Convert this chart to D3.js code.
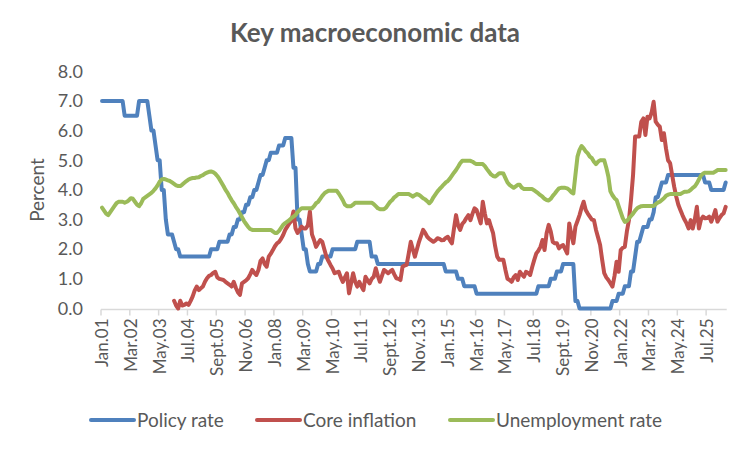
<!DOCTYPE html>
<html>
<head>
<meta charset="utf-8">
<script src="https://cdn.jsdelivr.net/npm/d3@7"></script>
<style>
  body { margin: 0; background: #fff; }
  svg { display: block; font-family: Lato, "Open Sans", sans-serif; }
</style>
</head>
<body>
<div id="chart"></div>
<script>
// monthly data, Jan 2001 onwards (304 months)
let monthNames = ["Jan", "Feb", "Mar", "Apr", "May", "Jun", "Jul", "Aug", "Sept", "Oct", "Nov", "Dec"];
let startYear = 2001;
let tickEvery = 14;

let policyRate = [
  7, 7, 7, 7, 7, 7, 7, 7, 7, 7, 7, 6.5,
  6.5, 6.5, 6.5, 6.5, 6.5, 6.5, 7, 7, 7, 7, 7, 6.5,
  6, 6, 5.5, 5, 5, 4, 4, 3, 2.5, 2.5, 2.5, 2.25,
  2, 2, 1.75, 1.75, 1.75, 1.75, 1.75, 1.75, 1.75, 1.75, 1.75, 1.75,
  1.75, 1.75, 1.75, 1.75, 1.75, 2, 2, 2, 2, 2.25, 2.25, 2.25,
  2.25, 2.25, 2.5, 2.5, 2.75, 2.75, 3, 3, 3.25, 3.25, 3.5, 3.5,
  3.75, 3.75, 4, 4, 4.25, 4.5, 4.5, 4.75, 5, 5, 5.25, 5.25,
  5.25, 5.25, 5.5, 5.5, 5.5, 5.75, 5.75, 5.75, 5.75, 4.75, 4.75, 3,
  3, 2.5, 2, 2, 1.5, 1.25, 1.25, 1.25, 1.25, 1.5, 1.5, 1.75,
  1.75, 1.75, 1.75, 1.75, 2, 2, 2, 2, 2, 2, 2, 2,
  2, 2, 2, 2, 2.25, 2.25, 2.25, 2.25, 2.25, 2.25, 2.25, 1.75,
  1.75, 1.75, 1.5, 1.5, 1.5, 1.5, 1.5, 1.5, 1.5, 1.5, 1.5, 1.5,
  1.5, 1.5, 1.5, 1.5, 1.5, 1.5, 1.5, 1.5, 1.5, 1.5, 1.5, 1.5,
  1.5, 1.5, 1.5, 1.5, 1.5, 1.5, 1.5, 1.5, 1.5, 1.5, 1.5, 1.25,
  1.25, 1.25, 1.25, 1.25, 1.25, 1, 1, 1, 0.75, 0.75, 0.75, 0.75,
  0.75, 0.75, 0.5, 0.5, 0.5, 0.5, 0.5, 0.5, 0.5, 0.5, 0.5, 0.5,
  0.5, 0.5, 0.5, 0.5, 0.5, 0.5, 0.5, 0.5, 0.5, 0.5, 0.5, 0.5,
  0.5, 0.5, 0.5, 0.5, 0.5, 0.5, 0.5, 0.5, 0.75, 0.75, 0.75, 0.75,
  0.75, 0.75, 1, 1, 1, 1.25, 1.25, 1.25, 1.5, 1.5, 1.5, 1.5,
  1.5, 1.5, 0.25, 0.25, 0, 0, 0, 0, 0, 0, 0, 0,
  0, 0, 0, 0, 0, 0, 0, 0, 0.25, 0.25, 0.25, 0.5,
  0.5, 0.5, 0.75, 0.75, 0.75, 1.25, 1.25, 1.75, 2.25, 2.25, 2.5, 2.75,
  2.75, 2.75, 3, 3, 3.25, 3.75, 3.75, 4, 4.25, 4.25, 4.25, 4.5,
  4.5, 4.5, 4.5, 4.5, 4.5, 4.5, 4.5, 4.5, 4.5, 4.5, 4.5, 4.5,
  4.5, 4.5, 4.5, 4.5, 4.5, 4.25, 4.25, 4.25, 4, 4, 4, 4,
  4, 4, 4, 4.25
];

let coreInflation = [
  null, null, null, null, null, null, null, null, null, null, null, null,
  null, null, null, null, null, null, null, null, null, null, null, null,
  null, null, null, null, null, null, null, null, null, null, null, 0.26,
  0.1, 0, 0.26, 0.1, 0.12, 0.17, 0.12, 0.25, 0.4, 0.6, 0.74, 0.62,
  0.68, 0.74, 0.9, 1.02, 1.1, 1.13, 1.2, 1.24, 1.05, 1, 0.98, 0.96,
  0.9, 0.85, 0.8, 0.74, 0.9, 0.7, 0.55, 0.46, 0.85, 0.9, 0.95, 1.02,
  1.15, 1.3, 1.2, 1.13, 1.3, 1.6, 1.69, 1.5, 1.41, 1.75, 1.85, 1.97,
  2.1, 2.2, 2.25, 2.35, 2.48, 2.65, 2.76, 2.87, 2.95, 3.27, 2.7, 2.55,
  2.65, 2.76, 2.7, 2.7, 2.8, 3.27, 2.5, 2.31, 2.08, 2.2, 2.31, 2.25,
  2, 1.75, 1.6, 1.47, 1.35, 1.19, 1.22, 1.24, 1.05, 0.9, 1.05, 1.19,
  0.51, 0.85, 1.19, 0.9, 0.74, 0.9, 0.75, 0.62, 1.07, 0.95, 0.85, 1,
  1.07, 1.36, 1.1, 0.9, 1.1, 1.3, 1.25, 1.19, 1.25, 1.3, 1.15, 1.02,
  1, 0.96, 1.41, 1.45, 1.47, 1.85, 2.25, 2, 1.75, 2, 2.25, 2.45,
  2.65, 2.55, 2.42, 2.35, 2.3, 2.25, 2.3, 2.37, 2.35, 2.3, 2.31, 2.38,
  2.42, 2.3, 2.2, 2.7, 3.15, 2.8, 2.65, 2.85, 2.93, 3.05, 3.15, 2.98,
  3.2, 3.38, 3.32, 3.1, 2.87, 3.6, 3.2, 2.87, 2.98, 2.75, 2.54, 2.1,
  1.75, 1.64, 1.64, 1.64, 1.3, 1, 0.96, 0.9, 1.05, 1.13, 0.96, 1.24,
  1.15, 1.07, 1.24, 1.2, 1.13, 1.4, 1.64, 1.86, 1.95, 2.08, 2.31, 1.97,
  2.54, 2.82, 2.6, 2.25, 2.2, 2.2, 2.03, 2.1, 2.14, 2, 1.86, 2.87,
  2.5, 2.2, 2.76, 2.95, 3.15, 3.4, 3.6, 3.32, 3.2, 3.1, 3, 2.98,
  2.65, 2.4, 2.14, 1.64, 1.19, 1.05, 0.96, 0.85, 0.74, 1.1, 1.58, 1.24,
  1.97, 2.05, 2.08, 2.6, 2.98, 3.66, 4.5, 5.8, 5.8, 5.8, 6.3, 6.41,
  5.85, 6.47, 6.41, 6.6, 6.97, 6.3, 6.2, 6.13, 5.68, 5.91, 5.4, 5,
  4.9, 4.5, 4.1, 3.77, 3.5, 3.32, 3.15, 3, 2.87, 2.7, 2.98, 2.7,
  3, 3.43, 2.7, 3, 3.1, 3.04, 3.05, 3.1, 2.93, 3.1, 3.32, 2.93,
  3.05, 3.15, 3.21, 3.43
];

let unemployment = [
  3.4, 3.3, 3.2, 3.15, 3.25, 3.35, 3.45, 3.55, 3.6, 3.6, 3.6, 3.57,
  3.6, 3.65, 3.72, 3.7, 3.6, 3.5, 3.45, 3.55, 3.7, 3.75, 3.8, 3.85,
  3.9, 3.97, 4.05, 4.15, 4.28, 4.35, 4.37, 4.35, 4.32, 4.3, 4.25, 4.2,
  4.15, 4.13, 4.13, 4.18, 4.24, 4.3, 4.35, 4.38, 4.4, 4.4, 4.42, 4.43,
  4.47, 4.5, 4.55, 4.58, 4.61, 4.62, 4.6, 4.55, 4.47, 4.37, 4.25, 4.13,
  4, 3.9, 3.77, 3.65, 3.55, 3.43, 3.33, 3.2, 3.08, 2.95, 2.85, 2.75,
  2.68, 2.65, 2.65, 2.65, 2.65, 2.65, 2.65, 2.65, 2.65, 2.65, 2.65, 2.6,
  2.55, 2.55, 2.62, 2.72, 2.82, 2.88, 2.93, 2.98, 3.05, 3.1, 3.15, 3.25,
  3.32, 3.38, 3.38, 3.38, 3.38, 3.38, 3.38, 3.45, 3.55, 3.6, 3.7, 3.8,
  3.88, 3.93, 3.97, 3.97, 3.97, 3.97, 3.97, 3.88, 3.77, 3.65, 3.5, 3.45,
  3.45, 3.45, 3.5, 3.57, 3.57, 3.57, 3.57, 3.57, 3.57, 3.57, 3.57, 3.57,
  3.52, 3.45, 3.38, 3.35, 3.35, 3.35, 3.4, 3.5, 3.6, 3.66, 3.75, 3.8,
  3.86, 3.86, 3.86, 3.86, 3.86, 3.86, 3.82, 3.77, 3.82, 3.86, 3.83, 3.78,
  3.72, 3.68, 3.62, 3.55, 3.62, 3.75, 3.85, 3.95, 4.03, 4.1, 4.18, 4.25,
  4.3, 4.38, 4.48, 4.58, 4.67, 4.78, 4.9, 4.98, 4.98, 4.98, 4.98, 4.98,
  4.95, 4.9, 4.87, 4.87, 4.87, 4.87, 4.8, 4.7, 4.61, 4.52, 4.47, 4.45,
  4.5, 4.56, 4.56, 4.55, 4.4, 4.25, 4.17, 4.12, 4.07, 4.12, 4.17, 4.17,
  4.07, 4.03, 4.03, 4.03, 4.03, 4.03, 3.98, 3.93, 3.88, 3.82, 3.77, 3.7,
  3.66, 3.64, 3.7, 3.8, 3.88, 3.97, 4.05, 4.07, 4.07, 4.07, 4.05, 4,
  3.92, 3.88, 4.5, 5.12, 5.35, 5.48, 5.4, 5.3, 5.23, 5.12, 5.07, 4.95,
  4.87, 4.95, 5, 5, 5, 4.75, 4.45, 3.95, 3.82, 3.72, 3.66, 3.45,
  3.25, 3.05, 2.92, 2.95, 3.04, 3.12, 3.2, 3.3, 3.38, 3.42, 3.45, 3.46,
  3.46, 3.46, 3.46, 3.46, 3.46, 3.52, 3.57, 3.6, 3.66, 3.72, 3.8, 3.84,
  3.86, 3.86, 3.86, 3.86, 3.86, 3.86, 3.9, 3.94, 3.94, 3.95, 4, 4.07,
  4.12, 4.22, 4.35, 4.48, 4.55, 4.58, 4.58, 4.58, 4.58, 4.58, 4.62, 4.67,
  4.67, 4.67, 4.67, 4.67
];

let yTicks = [0, 1, 2, 3, 4, 5, 6, 7, 8];

let seriesList = [
  { name: "Policy rate", values: policyRate, color: "#4f81bd" },
  { name: "Core inflation", values: coreInflation, color: "#c0504d" },
  { name: "Unemployment rate", values: unemployment, color: "#9bbb59" }
];

// month labels like "Jan.01", "Sept.05"
let categories = policyRate.map((d, i) => {
  let m = i % 12;
  let y = (startYear + Math.floor(i / 12)) % 100;
  return monthNames[m] + "." + String(y).padStart(2, "0");
});

let width = 750;
let height = 450;
let textColor = "#595959";

let svg = d3.select("#chart")
  .append("svg")
  .attr("width", width)
  .attr("height", height);

let x = d3.scaleBand()
  .domain(categories)
  .range([101, 726.7])
  .paddingInner(0)
  .paddingOuter(0);

let y = d3.scaleLinear()
  .domain([0, 8])
  .range([308.5, 71.3]);

// title
svg.append("text")
  .attr("x", 375)
  .attr("y", 42)
  .attr("text-anchor", "middle")
  .attr("font-size", 26)
  .attr("font-weight", "bold")
  .attr("fill", textColor)
  .text("Key macroeconomic data");

// y axis labels
let yAxis = svg.append("g")
  .attr("transform", "translate(89,0)")
  .call(d3.axisLeft(y).tickValues(yTicks).tickFormat(d3.format(".1f")).tickSize(0).tickPadding(6));
yAxis.select(".domain").remove();
yAxis.selectAll("text")
  .attr("font-family", "Lato, sans-serif")
  .attr("font-size", 18)
  .attr("fill", textColor);

svg.append("text")
  .attr("transform", "translate(44,190) rotate(-90)")
  .attr("text-anchor", "middle")
  .attr("font-size", 19)
  .attr("fill", textColor)
  .text("Percent");

// x axis: line, tick marks at category boundaries, rotated labels
let tickCats = categories.filter((d, i) => i % tickEvery === 0);

svg.append("line")
  .attr("x1", x.range()[0])
  .attr("x2", x.range()[1])
  .attr("y1", y(0) + 1)
  .attr("y2", y(0) + 1)
  .attr("stroke", "#d9d9d9")
  .attr("stroke-width", 1.5);

svg.selectAll(".xtick")
  .data(tickCats)
  .enter()
  .append("line")
  .attr("class", "xtick")
  .attr("x1", d => x(d))
  .attr("x2", d => x(d))
  .attr("y1", y(0) + 1)
  .attr("y2", y(0) + 7)
  .attr("stroke", "#d9d9d9")
  .attr("stroke-width", 1.5);

svg.selectAll(".xlabel")
  .data(tickCats)
  .enter()
  .append("text")
  .attr("class", "xlabel")
  .attr("transform", d => "translate(" + (x(d) + x.bandwidth() / 2) + "," + (y(0) + 10) + ") rotate(-90)")
  .attr("dy", "0.35em")
  .attr("text-anchor", "end")
  .attr("font-size", 17)
  .attr("fill", textColor)
  .text(d => d);

// the three lines
let line = d3.line()
  .defined(d => d.value != null)
  .x(d => x(d.cat) + x.bandwidth() / 2)
  .y(d => y(d.value));

seriesList.forEach(s => {
  let pts = s.values.map((v, i) => ({ cat: categories[i], value: v }));
  svg.append("path")
    .datum(pts)
    .attr("d", line)
    .attr("fill", "none")
    .attr("stroke", s.color)
    .attr("stroke-width", 4)
    .attr("stroke-linejoin", "round")
    .attr("stroke-linecap", "round");
});

// legend
let legendX = [91, 257, 450];
let legend = svg.selectAll(".legend")
  .data(seriesList)
  .enter()
  .append("g")
  .attr("class", "legend")
  .attr("transform", (d, i) => "translate(" + legendX[i] + ",420)");

legend.append("line")
  .attr("x1", 0)
  .attr("x2", 43)
  .attr("stroke", d => d.color)
  .attr("stroke-width", 4)
  .attr("stroke-linecap", "round");

legend.append("text")
  .attr("x", 46)
  .attr("dy", "0.35em")
  .attr("font-size", 19)
  .attr("fill", textColor)
  .text(d => d.name);
</script>
</body>
</html>
